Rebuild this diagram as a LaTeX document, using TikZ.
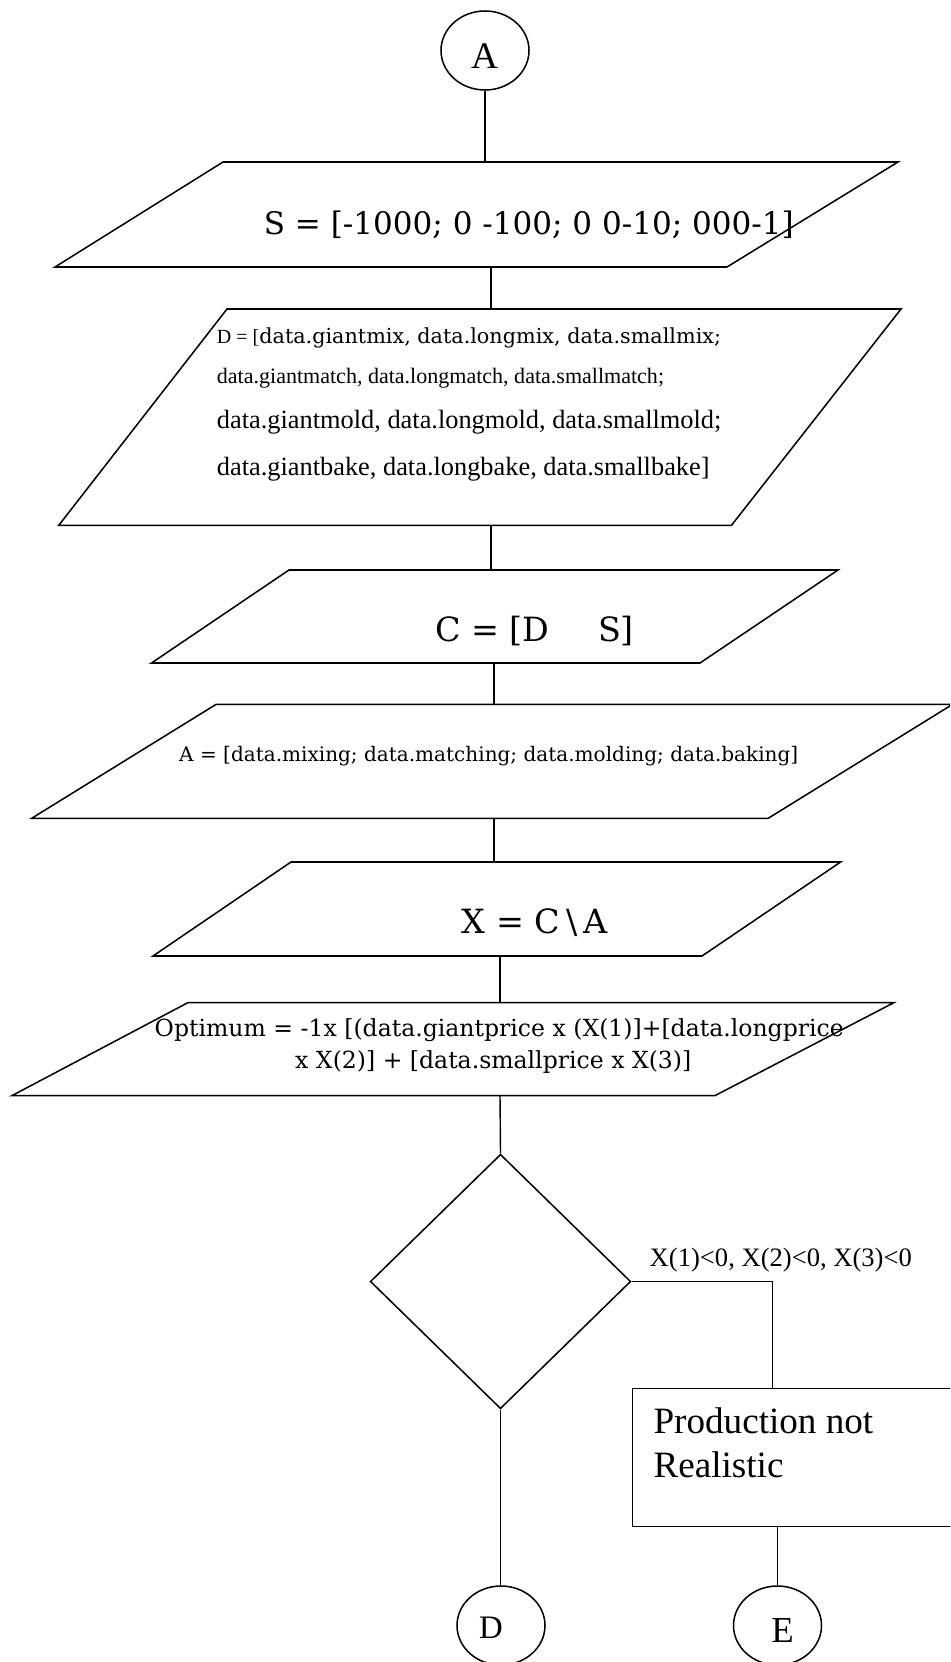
\documentclass[tikz,border=0pt]{standalone}
\usepackage{fontspec}
\setmainfont{Liberation Serif}
\newfontfamily\schoolfont{DejaVu Serif}
\usetikzlibrary{shapes.geometric}
\newcommand{\fs}[1]{\fontsize{#1}{1.2\dimexpr#1\relax}\selectfont}
\begin{document}
\begin{tikzpicture}[x=0.03cm,y=-0.03cm,
  outline/.style={draw, line width=1.3pt, line join=miter},
  conn/.style={draw, line width=1.2pt},
  term/.style={outline, ellipse, inner sep=0pt, minimum width=2.64cm, minimum height=2.37cm},
  txt/.style={inner sep=0pt, anchor=base west},
  letter/.style={inner sep=0pt, anchor=base}]
\useasboundingbox (0,0) rectangle (950,1662);
\clip (0,0) rectangle (950,1662);

% connector A
\node[term] (cA) at (485,50.5) {};
\node[letter, font=\fs{32pt}] (lA) at (484.7,69) {A};

% input/output blocks (parallelograms)
\draw[outline] (223,162) -- (898,162) -- (727,267) -- (55,267) -- cycle;
\coordinate (S-in) at (485,162);  \coordinate (S-out) at (491,267);
\node[txt, font=\schoolfont\fs{26.5pt}] (tS) at (263.6,235) {S = [-1000; 0 -100; 0 0-10; 000-1]};

\draw[outline] (227,309) -- (901,309) -- (731.5,525.3) -- (58.8,525.3) -- cycle;
\coordinate (D-in) at (491,309);  \coordinate (D-out) at (491,525.3);
\node[txt] (tD1) at (216.7,343.3) {{\fs{17.1pt}D = [}{\schoolfont\fs{17.7pt}data.giantmix, data.longmix, data.smallmix;}};
\node[txt, font=\fs{18.8pt}] (tD2) at (216.7,383.3) {data.giantmatch, data.longmatch, data.smallmatch;};
\node[txt, font=\fs{22.5pt}] (tD3) at (216.7,428.3) {data.giantmold, data.longmold, data.smallmold;};
\node[txt, font=\fs{22.5pt}] (tD4) at (216.7,475) {data.giantbake, data.longbake, data.smallbake]};

\draw[outline] (289,570) -- (838,570) -- (700,663) -- (151.5,663) -- cycle;
\coordinate (C-in) at (491,570);  \coordinate (C-out) at (494,663);
\node[txt, font=\schoolfont\fs{28.5pt}] (tC) at (435,641) {C = [D\hspace{1.45cm}S]};

\draw[outline] (216,704.4) -- (952.5,704.4) -- (768,818.4) -- (31.5,818.4) -- cycle;
\coordinate (A-in) at (494,704.4);  \coordinate (A-out) at (494,818.4);
\node[txt, font=\schoolfont\fs{17.1pt}] (tA) at (179,761) {A = [data.mixing; data.matching; data.molding; data.baking]};

\draw[outline] (291,862) -- (840.6,862) -- (702,956) -- (153,956) -- cycle;
\coordinate (X-in) at (494,862);  \coordinate (X-out) at (500,956);
\node[txt, font=\schoolfont\fs{28.5pt}] (tX) at (461.7,933.3) {X = C\kern5pt\textbackslash\kern5pt A};

\draw[outline] (188,1002.6) -- (894,1002.6) -- (715,1095.6) -- (12,1095.6) -- cycle;
\coordinate (O-in) at (500,1002.6);  \coordinate (O-out) at (500,1095.6);
\node[txt, font=\schoolfont\fs{20.1pt}] (tO1) at (154.5,1036) {Optimum = -1x [(data.giantprice x (X(1)]+[data.longprice};
\node[txt, font=\schoolfont\fs{20.1pt}] (tO2) at (295,1068) {x X(2)] + [data.smallprice x X(3)]};

% decision
\node[outline, diamond, inner sep=0pt, minimum width=7.815cm, minimum height=7.635cm] (dec) at (500.5,1281.5) {};
\node[txt, font=\fs{22.7pt}] (cond) at (649.5,1266) {X(1)<0, X(2)<0, X(3)<0};

% result box
\node[outline, rectangle, inner sep=0pt, minimum width=9.82cm, minimum height=4.146cm] (prod) at (796.4,1457.4) {};
\coordinate (P-in) at (772.3,1388.3);  \coordinate (P-out) at (777.5,1526.5);
\node[txt, font=\fs{31.7pt}] (tP1) at (653.3,1433) {Production not};
\node[txt, font=\fs{31.7pt}] (tP2) at (653.3,1477.7) {Realistic};

% off-page connectors D and E
\node[term] (cD) at (501,1625.5) {};
\node[letter, font=\fs{28pt}] (lD) at (491,1638) {D};
\node[term] (cE) at (777.5,1625.5) {};
\node[letter, font=\fs{31.3pt}] (lE) at (782.5,1642.7) {E};

% flow lines
\draw[conn] (cA.south) -- (S-in);
\draw[conn] (S-out) -- (D-in);
\draw[conn] (D-out) -- (C-in);
\draw[conn] (C-out) -- (A-in);
\draw[conn] (A-out) -- (X-in);
\draw[conn] (X-out) -- (O-in);
\draw[conn] (O-out) -- (dec.north);
\draw[conn] (dec.south) -- (dec.south |- cD.north);
\draw[conn] (dec.east) -| (P-in);
\draw[conn] (P-out) -- (cE.north);
\end{tikzpicture}
\end{document}
